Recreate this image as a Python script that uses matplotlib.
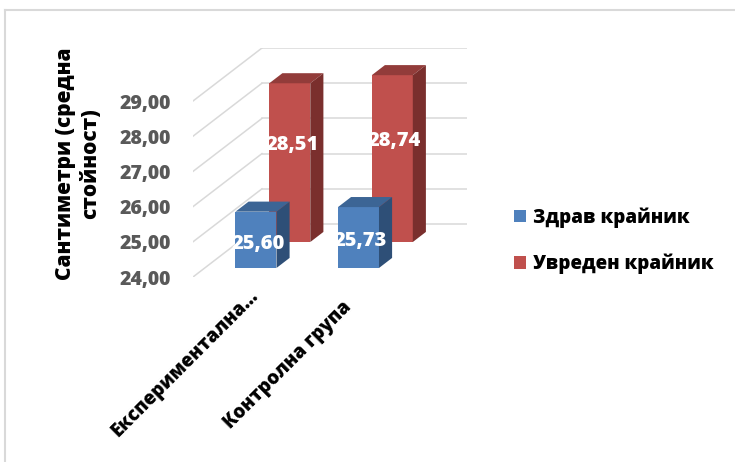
import matplotlib
matplotlib.use("Agg")
import matplotlib.pyplot as plt
from matplotlib.lines import Line2D
from matplotlib.patches import Polygon

plt.rcParams['font.family'] = ['Open Sans', 'DejaVu Sans']
plt.rcParams['font.weight'] = 'heavy'

groups = ['Експериментална...', 'Контролна група']
series = ['Здрав крайник', 'Увреден крайник']
healthy = [25.60, 25.73]
injured = [28.51, 28.74]
y_ticks = [24, 25, 26, 27, 28, 29]
y_label = 'Сантиметри (средна\nстойност)'

BASE = 24.0
KX, KY = 0.673, 1.506      # oblique shift for the full depth (category units, value units)
WIDTH = 0.40
label_offsets = [(8, -11.5), (1, -20)]   # points, per category label

# (front colour, top colour, side colour, depth start, depth end)
styles = [
    ('#4F81BD', '#3C6595', '#2E4F77', 0.17, 0.36),
    ('#C0504D', '#923C3A', '#7A2F2D', 0.66, 0.85),
]

fig = plt.figure(figsize=(7.35, 4.62), dpi=100)
ax = fig.add_axes([193 / 735, 185 / 462, 274 / 735, 229 / 462])
ax.set_xlim(-0.5, 1.5 + KX)
ax.set_ylim(BASE, y_ticks[-1] + KY)

grid_c = '#D9D9D9'
for t in y_ticks:
    ax.plot([-0.5, -0.5 + KX], [t, t + KY], color=grid_c, lw=1.1, zorder=1)
    ax.plot([-0.5 + KX, 1.5 + KX], [t + KY, t + KY], color=grid_c, lw=1.1, zorder=1)

handles = []
# back row first so the front row covers it
for si in (1, 0):
    values = [healthy, injured][si]
    front, top, side, z0, z1 = styles[si]
    zo = 2 + (1 - si) * 2
    xs = [i + z0 * KX for i in range(len(groups))]
    bars = ax.bar(xs, [v - BASE for v in values], bottom=BASE + z0 * KY,
                  width=WIDTH, color=front, zorder=zo, label=series[si])
    handles.append(bars)
    for i, v in enumerate(values):
        x0, x1 = i - WIDTH / 2, i + WIDTH / 2
        ax.add_patch(Polygon([(x0 + z0 * KX, v + z0 * KY), (x1 + z0 * KX, v + z0 * KY),
                              (x1 + z1 * KX, v + z1 * KY), (x0 + z1 * KX, v + z1 * KY)],
                             closed=True, facecolor=top, edgecolor='none', zorder=zo))
        ax.add_patch(Polygon([(x1 + z0 * KX, BASE + z0 * KY), (x1 + z1 * KX, BASE + z1 * KY),
                              (x1 + z1 * KX, v + z1 * KY), (x1 + z0 * KX, v + z0 * KY)],
                             closed=True, facecolor=side, edgecolor='none', zorder=zo))
        # value label, drawn from the same value as the bar
        mid = (BASE + v) / 2
        lz = 0.1 if si == 0 else 1.0
        ax.text(i + z0 * KX + 0.02, mid + lz * KY, f'{v:.2f}'.replace('.', ','),
                color='white', fontsize=14.5, fontweight='heavy',
                ha='center', va='center', zorder=6)

ax.set_yticks(y_ticks)
ax.set_yticklabels([f'{t:.2f}'.replace('.', ',') for t in y_ticks],
                   color='#595959', fontsize=14, fontweight='heavy')
ax.tick_params(axis='y', length=0, pad=16)
ax.set_xticks([])
for s in ax.spines.values():
    s.set_visible(False)
ax.patch.set_alpha(0)

for i, g in enumerate(groups):
    ax.annotate(g, xy=(i, BASE), xytext=label_offsets[i], textcoords='offset points',
                rotation=45, rotation_mode='anchor', ha='right', va='center',
                fontsize=13.5, fontweight='heavy', color='black')

fig.text(78 / 735, 1 - 164 / 462, y_label, rotation=90, ha='center', va='center',
         multialignment='center', fontsize=15, fontweight='heavy', linespacing=1.25)

fig.legend(handles[::-1], series, loc='upper left', bbox_to_anchor=(514 / 735, 1 - 207 / 462),
           frameon=False, fontsize=13.5, handlelength=0.65, handleheight=0.65,
           handletextpad=0.35, labelspacing=1.4, borderpad=0, borderaxespad=0)

# outer chart border (only left and top edges fall inside the image)
fig.add_artist(Line2D([5 / 735, 5 / 735], [0, 1 - 10 / 462], color='#D9D9D9', lw=1.5))
fig.add_artist(Line2D([5 / 735, 1], [1 - 10 / 462, 1 - 10 / 462], color='#D9D9D9', lw=1.5))

fig.savefig('out.png', dpi=100)
